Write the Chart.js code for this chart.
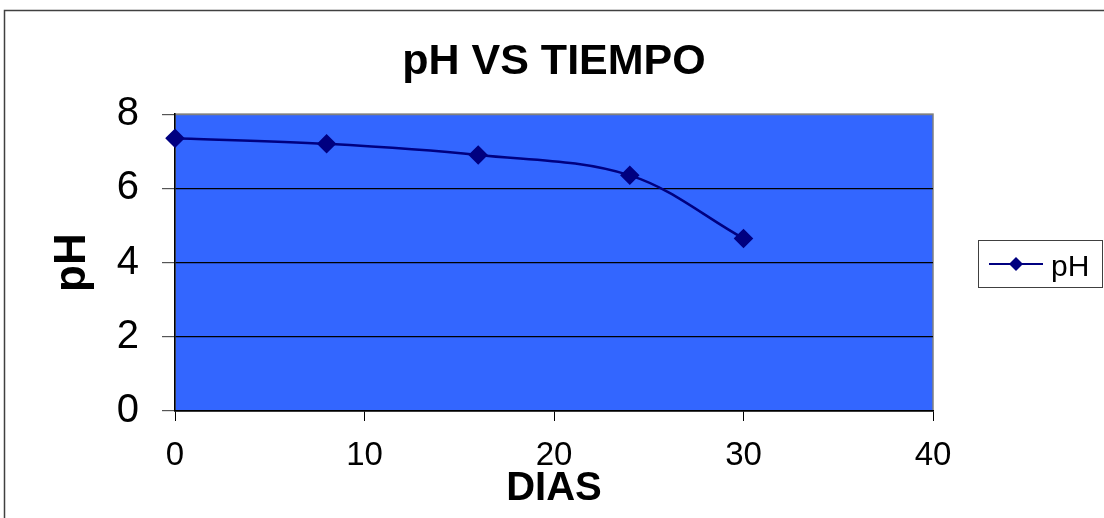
<!DOCTYPE html>
<html>
<head>
<meta charset="utf-8">
<script src="https://cdn.jsdelivr.net/npm/chart.js@4/dist/chart.umd.min.js"></script>
<style>
  html, body { margin: 0; padding: 0; background: #fff; }
  #wrap { width: 1104px; height: 518px; }
</style>
</head>
<body>
<div id="wrap"><canvas id="c" width="1104" height="518"></canvas></div>
<script>
// datos
const dias = [0, 8, 16, 24, 30];
const ph = [7.35, 7.2, 6.9, 6.35, 4.65];
const xMin = 0, xMax = 40, xStep = 10;
const yMin = 0, yMax = 8, yStep = 2;

const titulo = 'pH VS TIEMPO';
const tituloX = 'DIAS';
const tituloY = 'pH';
const serie = 'pH';

const azulFondo = '#3366ff';
const azulSerie = '#000080';

Chart.defaults.font.family = '"Liberation Sans", Arial, sans-serif';
Chart.defaults.color = '#000';

// marco exterior y fondo del área de trazado
const fondoPlugin = {
  id: 'fondo',
  beforeDraw(chart) {
    const { ctx, chartArea: a } = chart;
    ctx.save();
    ctx.strokeStyle = '#404040';
    ctx.lineWidth = 1.5;
    ctx.strokeRect(4.5, 10.5, 1200, 600);
    ctx.fillStyle = azulFondo;
    ctx.fillRect(a.left, a.top, a.right - a.left, a.bottom - a.top);
    ctx.strokeStyle = '#808080';
    ctx.lineWidth = 1.5;
    ctx.strokeRect(a.left, a.top, a.right - a.left, a.bottom - a.top);
    ctx.restore();
  }
};

// leyenda a la derecha
const leyendaPlugin = {
  id: 'leyenda',
  afterDraw(chart) {
    const { ctx } = chart;
    const ds = chart.data.datasets[0];
    ctx.save();
    ctx.strokeStyle = '#404040';
    ctx.lineWidth = 1;
    ctx.strokeRect(978.5, 240.5, 124, 47);
    ctx.strokeStyle = ds.borderColor;
    ctx.lineWidth = 2;
    ctx.beginPath();
    ctx.moveTo(989, 264);
    ctx.lineTo(1043, 264);
    ctx.stroke();
    ctx.fillStyle = ds.backgroundColor;
    ctx.beginPath();
    ctx.moveTo(1016, 257);
    ctx.lineTo(1023, 264);
    ctx.lineTo(1016, 271);
    ctx.lineTo(1009, 264);
    ctx.closePath();
    ctx.fill();
    ctx.fillStyle = '#000';
    ctx.font = '30px "Liberation Sans", Arial, sans-serif';
    ctx.textBaseline = 'alphabetic';
    ctx.fillText(ds.label, 1051, 276);
    ctx.restore();
  }
};

new Chart(document.getElementById('c'), {
  type: 'line',
  data: {
    datasets: [{
      label: serie,
      data: dias.map((d, i) => ({ x: d, y: ph[i] })),
      borderColor: azulSerie,
      backgroundColor: azulSerie,
      borderWidth: 2.5,
      pointStyle: 'rectRot',
      pointRadius: 8,
      pointHoverRadius: 8,
      tension: 0.35,
      clip: false
    }]
  },
  options: {
    responsive: false,
    animation: false,
    layout: { padding: { left: 0, right: 171, top: 0, bottom: 0 } },
    plugins: {
      legend: { display: false },
      tooltip: { enabled: false },
      title: {
        display: true,
        text: titulo,
        fullSize: false,
        font: { size: 43, weight: 'bold' },
        padding: { top: 36.5, bottom: 26 }
      }
    },
    scales: {
      x: {
        type: 'linear',
        min: xMin,
        max: xMax,
        afterFit: s => { s.height = 107; },
        ticks: { stepSize: xStep, font: { size: 33 }, padding: 15 },
        grid: { drawOnChartArea: false, drawTicks: true, tickLength: 10, tickColor: '#000' },
        border: { color: '#000', width: 1.5 },
        title: { display: true, text: tituloX, font: { size: 40, weight: 'bold' }, padding: { top: 0, bottom: 5 } }
      },
      y: {
        min: yMin,
        max: yMax,
        afterFit: s => { s.width = 175; },
        ticks: { stepSize: yStep, font: { size: 40 }, padding: 23 },
        grid: {
          color: ctx => (ctx.tick && ctx.tick.value === yMax) ? '#808080' : '#000',
          lineWidth: 1.2,
          tickLength: 13,
          tickColor: '#555'
        },
        border: { color: '#000', width: 1.5 },
        title: { display: true, text: tituloY, font: { size: 44, weight: 'bold' }, padding: { top: 46, bottom: 0 } }
      }
    }
  },
  plugins: [fondoPlugin, leyendaPlugin]
});
</script>
</body>
</html>
